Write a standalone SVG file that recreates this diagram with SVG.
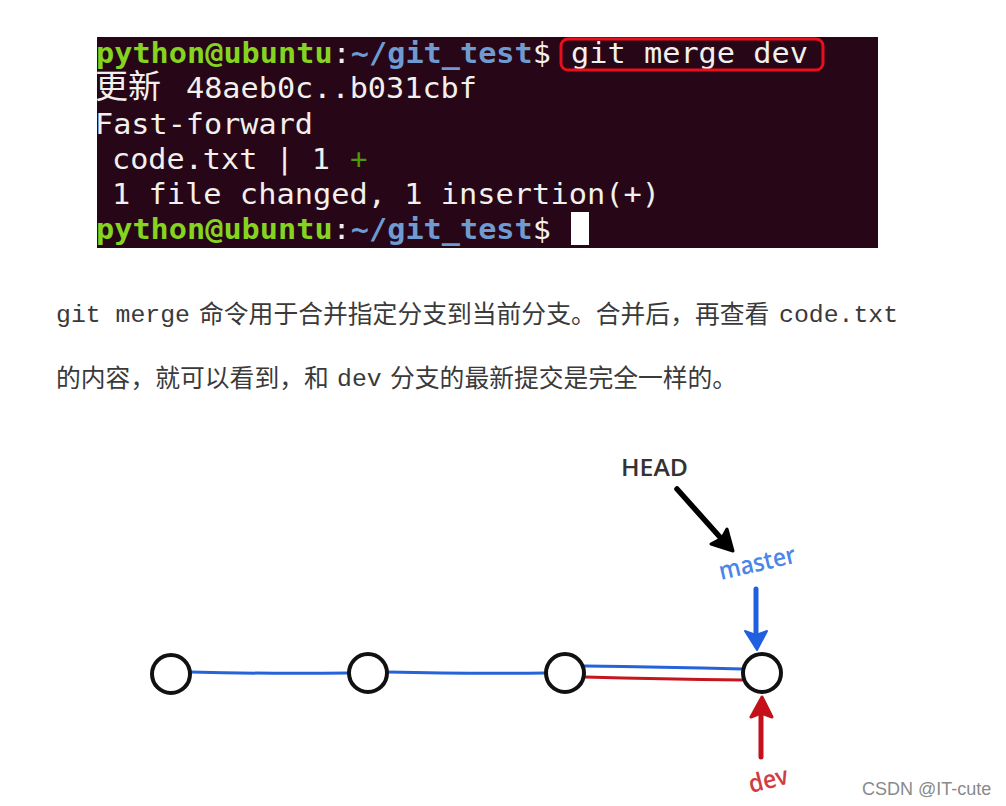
<svg xmlns="http://www.w3.org/2000/svg" width="1006" height="806" viewBox="0 0 1006 806">
<style>
.t{font-family:"DejaVu Sans Mono","Noto Sans CJK SC",monospace;font-size:29px;fill:#f2f0ec}
.g{fill:#84d420;font-weight:bold}
.b{fill:#6f9bd0;font-weight:bold}
.p{font-family:"Liberation Mono","Noto Sans CJK SC",monospace;font-size:24.8px;fill:#3a3a3a}
.c{fill:#fff;stroke:#111;stroke-width:4}
.h{font-family:"Open Sans","Liberation Sans",sans-serif;font-weight:600}
.l{fill:none;stroke-linecap:round;stroke-linejoin:round}
</style>
<rect width="1006" height="806" fill="#fff"/>
<g id="terminal">
<rect x="97" y="37" width="781" height="211" fill="#270618"/>
<text class="t" x="96" y="63" textLength="455" lengthAdjust="spacingAndGlyphs"><tspan class="g">python@ubuntu</tspan><tspan>:</tspan><tspan class="b">~/git_test</tspan><tspan>$</tspan></text>
<text class="t" x="571" y="63" textLength="237" lengthAdjust="spacingAndGlyphs">git merge dev</text>
<rect x="561" y="39" width="262" height="31" rx="7" fill="none" stroke="#e8101c" stroke-width="3"/>
<text class="t" x="95" y="98" style="font-size:33px">更新</text>
<text class="t" x="186" y="98" textLength="291" lengthAdjust="spacingAndGlyphs">48aeb0c..b031cbf</text>
<text class="t" x="95" y="134" textLength="218" lengthAdjust="spacingAndGlyphs">Fast-forward</text>
<text class="t" x="112" y="169" textLength="218" lengthAdjust="spacingAndGlyphs">code.txt | 1</text>
<text class="t" x="350" y="169" style="fill:#4e9a06">+</text>
<text class="t" x="112" y="204" textLength="548" lengthAdjust="spacingAndGlyphs">1 file changed, 1 insertion(+)</text>
<text class="t" x="96" y="239" textLength="455" lengthAdjust="spacingAndGlyphs"><tspan class="g">python@ubuntu</tspan><tspan>:</tspan><tspan class="b">~/git_test</tspan><tspan>$</tspan></text>
<rect x="571" y="212" width="18" height="33" fill="#fff"/>
</g>
<g id="paragraph">
<text class="p" x="56" y="322">git merge</text>
<text class="p" x="199" y="323">命令用于合并指定分支到当前分支。合并后&#xFF0C;再查看</text>
<text class="p" x="779" y="322">code.txt</text>
<text class="p" x="56" y="387">的内容&#xFF0C;就可以看到&#xFF0C;和</text>
<text class="p" x="337" y="386">dev</text>
<text class="p" x="390" y="387">分支的最新提交是完全一样的。</text>
</g>
<g id="connectors">
<path class="l" stroke="#2563d8" stroke-width="3" d="M190 672Q270 674 349 673"/>
<path class="l" stroke="#2563d8" stroke-width="3" d="M387 672Q470 674 546 673"/>
<path class="l" stroke="#2563d8" stroke-width="3" d="M585 666Q660 667 743 669"/>
<path class="l" stroke="#c4161c" stroke-width="3" d="M585 677Q660 679 742 680"/>
<path class="l" stroke="#000" stroke-width="5.5" d="M677 489L727 545"/>
<path d="M711 544L722 538L727 529L733 551Z" fill="#000" stroke="#000" stroke-width="3" stroke-linejoin="round"/>
<path class="l" stroke="#2060e0" stroke-width="5" d="M756 589V640"/>
<path d="M745 631L756 635L767 631L757 650Z" fill="#2060e0" stroke="#2060e0" stroke-width="2" stroke-linejoin="round"/>
<path class="l" stroke="#c4101a" stroke-width="5" d="M761 757V705"/>
<path d="M751 717L761 713L772 717L762 697Z" fill="#c4101a" stroke="#c4101a" stroke-width="3" stroke-linejoin="round"/>
</g>
<g id="node1"><circle class="c" cx="171" cy="674" r="19"/></g>
<g id="node2"><circle class="c" cx="368" cy="673" r="19"/></g>
<g id="node3"><circle class="c" cx="565" cy="673" r="19"/></g>
<g id="node4"><circle class="c" cx="762" cy="673" r="19"/></g>
<g id="head"><text class="h" x="621" y="476" font-size="24" fill="#333" textLength="67" lengthAdjust="spacingAndGlyphs">HEAD</text></g>
<g id="master"><text class="h" x="0" y="0" font-size="25" fill="#4a86e8" textLength="78" lengthAdjust="spacingAndGlyphs" transform="translate(721 580) rotate(-13)">master</text></g>
<g id="dev"><text class="h" x="0" y="0" font-size="25" fill="#d23a44" textLength="40" lengthAdjust="spacingAndGlyphs" transform="translate(751 793) rotate(-14)">dev</text></g>
<g id="watermark"><text x="862" y="795" font-family="Liberation Sans,sans-serif" font-size="18" fill="#8a8a8a">CSDN @IT-cute</text></g>
</svg>
